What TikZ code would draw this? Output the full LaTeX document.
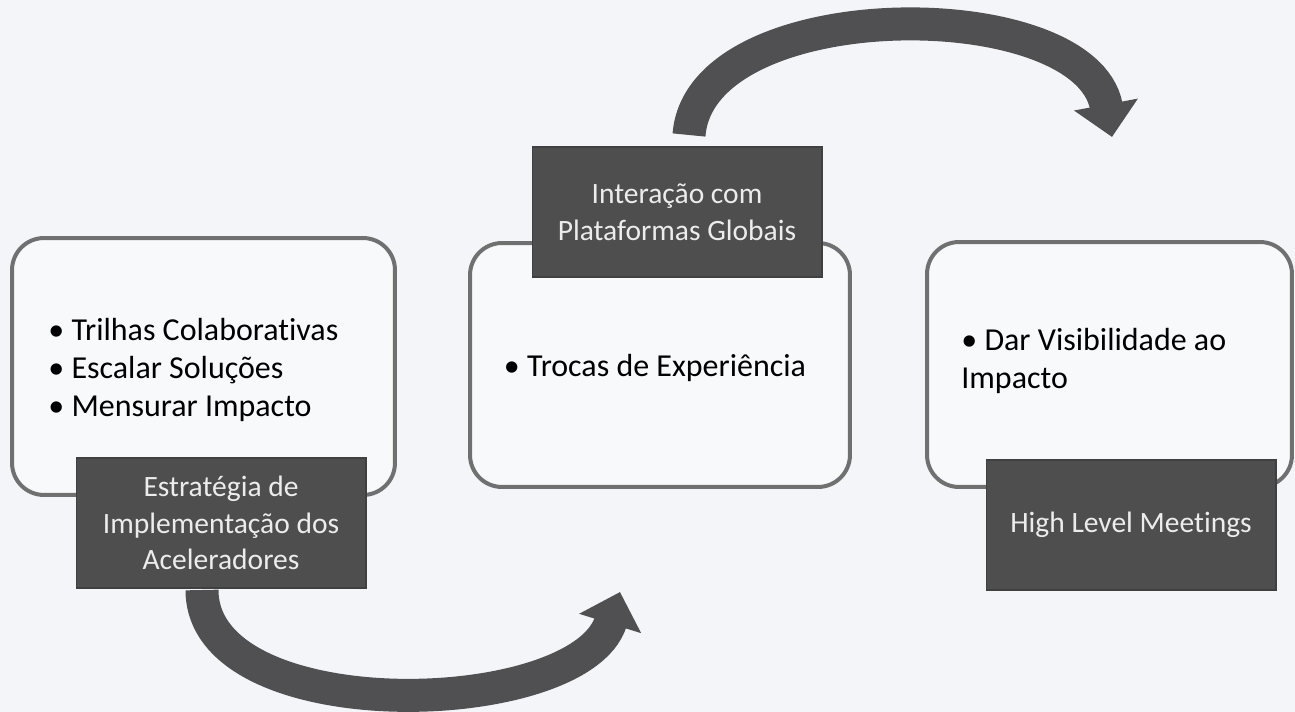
\documentclass[tikz,border=0pt]{standalone}
\usepackage{fontspec}
\setmainfont[Ligatures=NoCommon]{Carlito}
\usetikzlibrary{arrows.meta}
\definecolor{paper}{RGB}{243,245,249}
\definecolor{panelline}{RGB}{112,112,112}
\definecolor{tagfill}{RGB}{78,78,78}
\definecolor{tagtext}{RGB}{236,236,236}
\definecolor{arrowgray}{RGB}{80,80,82}
\tikzset{
  panel/.style={draw=panelline, line width=0.08cm, rounded corners=0.64cm, fill=white!40!paper, inner sep=0pt},
  tag/.style={draw=black!75, fill=tagfill, text=tagtext, line width=0.6pt, minimum width=5.8cm, minimum height=2.6cm, align=center, font=\fontsize{16.8}{20.8}\selectfont},
  flowarrow/.style={draw=arrowgray, line width=0.66cm, -{Triangle[width=1.26cm,length=0.66cm]}},
  bodytext/.style={align=left, inner sep=0pt, font=\fontsize{18.2}{21.8}\selectfont}
}
\begin{document}
\begin{tikzpicture}[x=0.02cm,y=-0.02cm]
    \fill[paper] (0,0) rectangle (1295,712);
    \useasboundingbox (0,0) rectangle (1295,712);

    \node[panel, minimum width=7.66cm, minimum height=5.14cm] (accel) at (203.5,366.5) {};
    \node[panel, minimum width=7.6cm, minimum height=4.88cm] (trocas) at (660,365) {};
    \node[panel, minimum width=7.3cm, minimum height=4.9cm] (visib) at (1109.5,364.5) {};

    \node[bodytext, anchor=west] (acceltxt) at (48,370) {• Trilhas Colaborativas\\• Escalar Soluções\\• Mensurar Impacto};
    \node[bodytext] (trocastxt) at (655,368) {• Trocas de Experiência};
    \node[bodytext, anchor=west] (visibtxt) at (961,361) {• Dar Visibilidade ao\\Impacto};

    \node[tag] (estrat) at (221,523) {Estratégia de\\Implementação dos\\Aceleradores};
    \node[tag] (inter) at (677,212) {Interação com\\Plataformas Globais};
    \node[tag] (meet) at (1131,525) {High Level Meetings};

    \coordinate (topstart) at (689,135);
    \coordinate (topend) at (1112,137);
    \coordinate (botstart) at (202,590);
    \coordinate (botend) at (620,592);
    \draw[flowarrow] (topstart) .. controls (700,-8) and (1085,-8) .. (topend);
    \draw[flowarrow] (botstart) .. controls (202,730) and (580,720) .. (botend);
\end{tikzpicture}
\end{document}
